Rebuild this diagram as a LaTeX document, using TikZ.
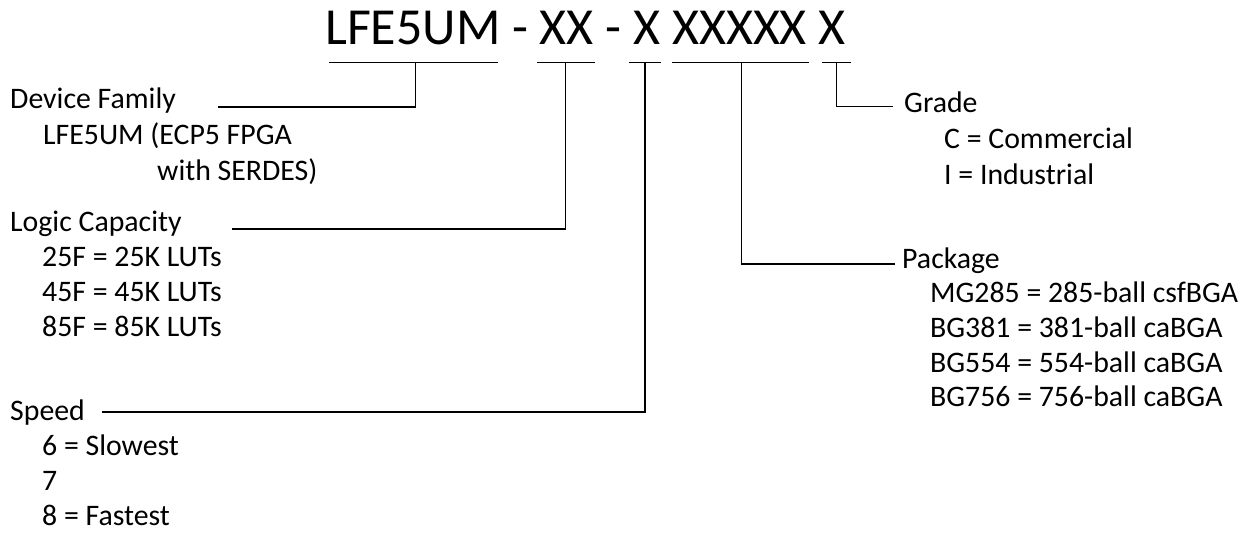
\documentclass[tikz,border=0pt]{standalone}
\usepackage{fontspec}
\setmainfont{Carlito}
\begin{document}
\begin{tikzpicture}[
    x=1pt,y=-1pt,
    guide/.style={draw=black,line width=1.2pt},
    title/.style={anchor=base west,inner sep=0pt,font=\fontsize{52}{62}\selectfont},
    head/.style={anchor=base west,inner sep=0pt,font=\fontsize{29.8}{36}\selectfont},
    item/.style={head}]

  \useasboundingbox (0,0) rectangle (1251,533);

  % ---- codice --------------------------------------------------------
  \node[title] (code) at (325,44) {LFE5UM - XX - X XXXXX X};

  % ---- trattini sotto il codice ---------------------------------------
  \coordinate (s1a) at (329,62.7);  \coordinate (s1b) at (498,62.7);
  \coordinate (s2a) at (537,62.7);  \coordinate (s2b) at (595,62.7);
  \coordinate (s3a) at (629,62.7);  \coordinate (s3b) at (661,62.7);
  \coordinate (s4a) at (672,62.7);  \coordinate (s4b) at (809,62.7);
  \coordinate (s5a) at (822,62.7);  \coordinate (s5b) at (851,62.7);

  \coordinate (t1) at (415.7,62.7);   % famiglia
  \coordinate (t2) at (565.7,62.7);   % capacita'
  \coordinate (t3) at (645,62.7);     % velocita'
  \coordinate (t4) at (741.7,62.7);   % package
  \coordinate (t5) at (836.5,62.7);   % grado

  \foreach \s in {1,...,5}
    \draw[guide] (s\s a) -- (s\s b);

  % ---- etichette ------------------------------------------------------
  \node[head] (fam) at (10,108) {Device Family};
  \node[item] (fam1) at (43,144) {LFE5UM (ECP5 FPGA};
  \node[item] (fam2) at (157,180) {with SERDES)};

  \node[head] (cap) at (10,231) {Logic Capacity};
  \foreach \t [count=\i] in {25F = 25K LUTs,45F = 45K LUTs,85F = 85K LUTs}
    \node[item] (cap\i) at (42,231+35*\i) {\t};

  \node[head] (spd) at (10,420) {Speed};
  \foreach \t [count=\i] in {6 = Slowest,7,8 = Fastest}
    \node[item] (spd\i) at (42,420+35*\i) {\t};

  \node[head] (grd) at (904,112) {Grade};
  \foreach \t [count=\i] in {C = Commercial,I = Industrial}
    \node[item] (grd\i) at (944,112+36*\i) {\t};

  \node[head] (pkg) at (902,268) {Package};
  \foreach \t [count=\i] in {MG285 = 285-ball csfBGA,BG381 = 381-ball caBGA,
                            BG554 = 554-ball caBGA,BG756 = 756-ball caBGA}
    \node[item] (pkg\i) at (930,268+34.7*\i) {\t};

  % ---- collegamenti ---------------------------------------------------
  \coordinate (famL) at (218,107);
  \coordinate (capL) at (232,229);
  \coordinate (spdL) at (102,412);
  \coordinate (grdR) at (893,106.7);
  \coordinate (pkgR) at (895,264);

  \draw[guide] (famL) -| (t1);
  \draw[guide] (capL) -| (t2);
  \draw[guide] (spdL) -| (t3);
  \draw[guide] (grdR) -| (t5);
  \draw[guide] (pkgR) -| (t4);

\end{tikzpicture}
\end{document}
